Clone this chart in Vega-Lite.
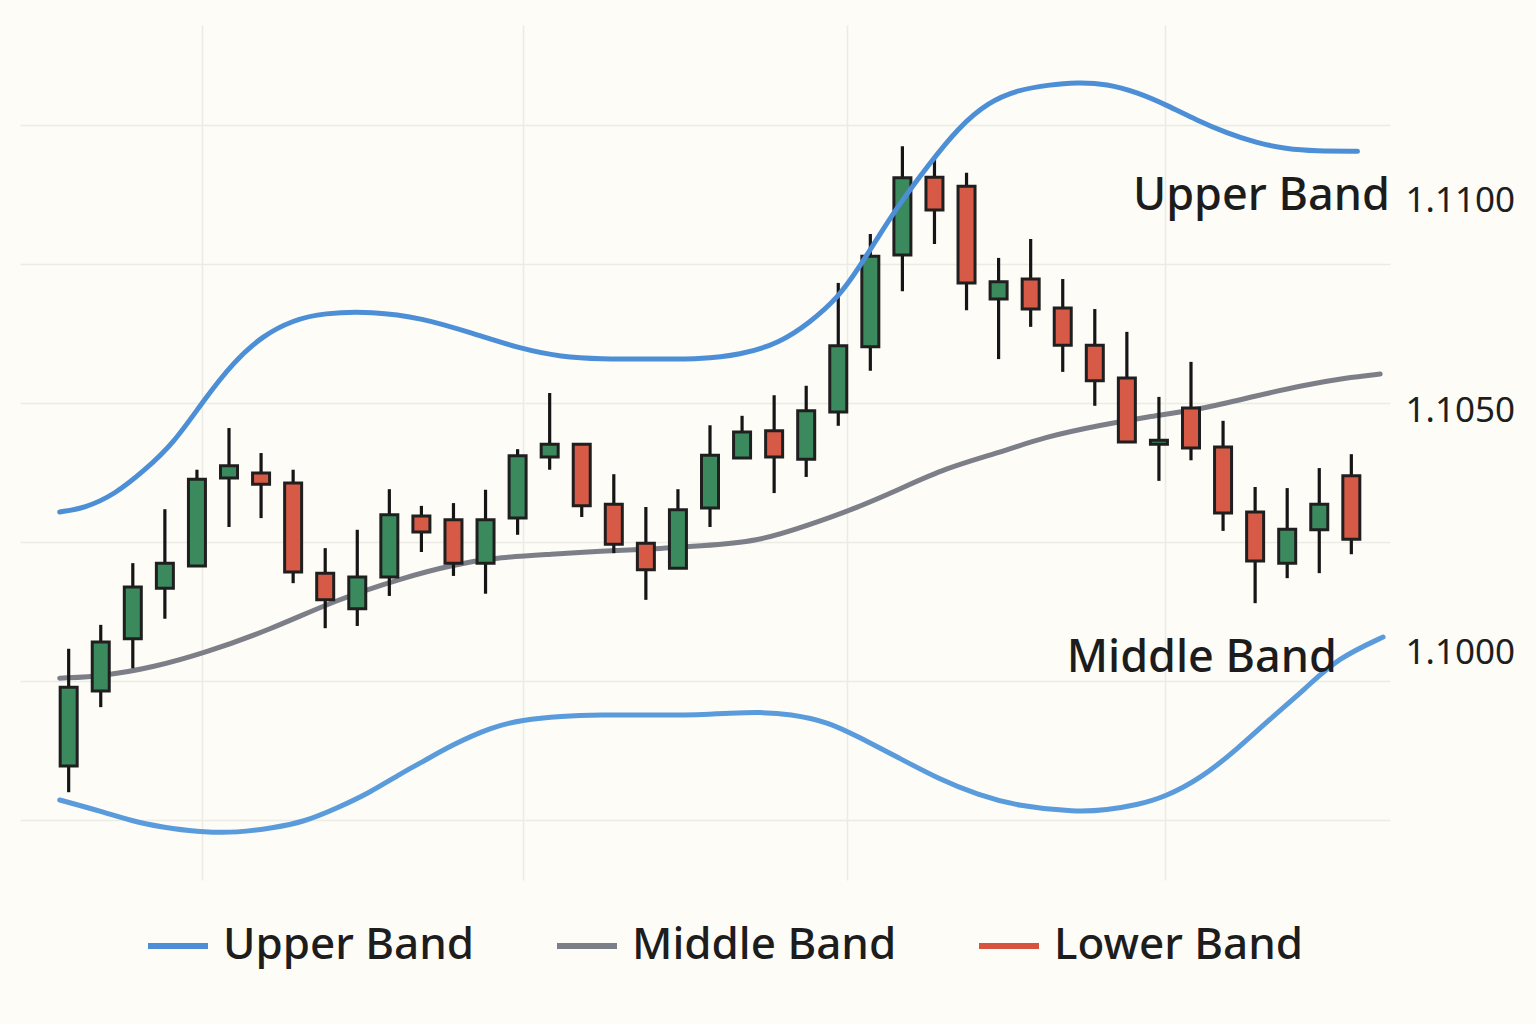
{
  "$schema": "https://vega.github.io/schema/vega-lite/v6.json",
  "width": 1370,
  "height": 855,
  "autosize": "none",
  "padding": {"left": 20, "top": 25, "right": 146, "bottom": 144},
  "background": "#fdfcf7",
  "config": {
    "view": {"stroke": null},
    "font": "Noto Sans",
    "axisY": {
      "grid": false,
      "ticks": false,
      "domain": false,
      "title": null,
      "labelFont": "Noto Sans",
      "labelFontSize": 35,
      "labelColor": "#1e1e1e",
      "labelPadding": 15,
      "labelOverlap": false,
      "labelBound": false,
      "labelFlush": false,
      "format": ".4f"
    }
  },
  "resolve": {"axis": {"y": "independent"}},
  "datasets": {
    "candles": [
      {"i": 0, "open": 1.09847, "high": 1.10058, "low": 1.09800, "close": 1.09989},
      {"i": 1, "open": 1.09982, "high": 1.10101, "low": 1.09953, "close": 1.10070},
      {"i": 2, "open": 1.10076, "high": 1.10212, "low": 1.10023, "close": 1.10169},
      {"i": 3, "open": 1.10167, "high": 1.10309, "low": 1.10112, "close": 1.10212},
      {"i": 4, "open": 1.10207, "high": 1.10380, "low": 1.10207, "close": 1.10363},
      {"i": 5, "open": 1.10365, "high": 1.10455, "low": 1.10277, "close": 1.10387},
      {"i": 6, "open": 1.10374, "high": 1.10410, "low": 1.10293, "close": 1.10354},
      {"i": 7, "open": 1.10356, "high": 1.10380, "low": 1.10176, "close": 1.10196},
      {"i": 8, "open": 1.10194, "high": 1.10239, "low": 1.10095, "close": 1.10146},
      {"i": 9, "open": 1.10130, "high": 1.10272, "low": 1.10099, "close": 1.10187},
      {"i": 10, "open": 1.10187, "high": 1.10345, "low": 1.10153, "close": 1.10299},
      {"i": 11, "open": 1.10297, "high": 1.10315, "low": 1.10232, "close": 1.10268},
      {"i": 12, "open": 1.10290, "high": 1.10320, "low": 1.10189, "close": 1.10212},
      {"i": 13, "open": 1.10212, "high": 1.10344, "low": 1.10157, "close": 1.10290},
      {"i": 14, "open": 1.10293, "high": 1.10417, "low": 1.10263, "close": 1.10405},
      {"i": 15, "open": 1.10403, "high": 1.10518, "low": 1.10380, "close": 1.10426},
      {"i": 16, "open": 1.10426, "high": 1.10426, "low": 1.10295, "close": 1.10315},
      {"i": 17, "open": 1.10318, "high": 1.10372, "low": 1.10230, "close": 1.10246},
      {"i": 18, "open": 1.10248, "high": 1.10313, "low": 1.10146, "close": 1.10200},
      {"i": 19, "open": 1.10203, "high": 1.10345, "low": 1.10203, "close": 1.10308},
      {"i": 20, "open": 1.10311, "high": 1.10460, "low": 1.10277, "close": 1.10406},
      {"i": 21, "open": 1.10401, "high": 1.10477, "low": 1.10401, "close": 1.10448},
      {"i": 22, "open": 1.10450, "high": 1.10514, "low": 1.10338, "close": 1.10403},
      {"i": 23, "open": 1.10399, "high": 1.10531, "low": 1.10367, "close": 1.10486},
      {"i": 24, "open": 1.10484, "high": 1.10716, "low": 1.10459, "close": 1.10603},
      {"i": 25, "open": 1.10601, "high": 1.10804, "low": 1.10558, "close": 1.10764},
      {"i": 26, "open": 1.10766, "high": 1.10962, "low": 1.10701, "close": 1.10905},
      {"i": 27, "open": 1.10906, "high": 1.10942, "low": 1.10786, "close": 1.10847},
      {"i": 28, "open": 1.10890, "high": 1.10914, "low": 1.10667, "close": 1.10716},
      {"i": 29, "open": 1.10687, "high": 1.10761, "low": 1.10579, "close": 1.10718},
      {"i": 30, "open": 1.10723, "high": 1.10795, "low": 1.10637, "close": 1.10669},
      {"i": 31, "open": 1.10671, "high": 1.10723, "low": 1.10556, "close": 1.10604},
      {"i": 32, "open": 1.10604, "high": 1.10669, "low": 1.10495, "close": 1.10540},
      {"i": 33, "open": 1.10545, "high": 1.10628, "low": 1.10430, "close": 1.10430},
      {"i": 34, "open": 1.10426, "high": 1.10511, "low": 1.10360, "close": 1.10433},
      {"i": 35, "open": 1.10491, "high": 1.10574, "low": 1.10397, "close": 1.10419},
      {"i": 36, "open": 1.10421, "high": 1.10468, "low": 1.10270, "close": 1.10302},
      {"i": 37, "open": 1.10304, "high": 1.10349, "low": 1.10140, "close": 1.10216},
      {"i": 38, "open": 1.10212, "high": 1.10347, "low": 1.10185, "close": 1.10273},
      {"i": 39, "open": 1.10272, "high": 1.10383, "low": 1.10194, "close": 1.10318},
      {"i": 40, "open": 1.10369, "high": 1.10408, "low": 1.10228, "close": 1.10255}
    ],
    "bands": [
      {"band": "Upper Band", "i": -0.28, "price": 1.10304},
      {"band": "Upper Band", "i": 0.50, "price": 1.10311},
      {"band": "Upper Band", "i": 1.42, "price": 1.10335},
      {"band": "Upper Band", "i": 2.35, "price": 1.10378},
      {"band": "Upper Band", "i": 3.28, "price": 1.10428},
      {"band": "Upper Band", "i": 4.21, "price": 1.10505},
      {"band": "Upper Band", "i": 5.14, "price": 1.10574},
      {"band": "Upper Band", "i": 6.07, "price": 1.10622},
      {"band": "Upper Band", "i": 7.00, "price": 1.10649},
      {"band": "Upper Band", "i": 7.93, "price": 1.10662},
      {"band": "Upper Band", "i": 9.47, "price": 1.10665},
      {"band": "Upper Band", "i": 11.02, "price": 1.10653},
      {"band": "Upper Band", "i": 12.57, "price": 1.10626},
      {"band": "Upper Band", "i": 14.12, "price": 1.10597},
      {"band": "Upper Band", "i": 15.36, "price": 1.10583},
      {"band": "Upper Band", "i": 16.59, "price": 1.10579},
      {"band": "Upper Band", "i": 18.14, "price": 1.10579},
      {"band": "Upper Band", "i": 19.69, "price": 1.10579},
      {"band": "Upper Band", "i": 20.93, "price": 1.10586},
      {"band": "Upper Band", "i": 22.17, "price": 1.10608},
      {"band": "Upper Band", "i": 23.10, "price": 1.10644},
      {"band": "Upper Band", "i": 24.02, "price": 1.10691},
      {"band": "Upper Band", "i": 24.64, "price": 1.10743},
      {"band": "Upper Band", "i": 25.26, "price": 1.10800},
      {"band": "Upper Band", "i": 25.88, "price": 1.10856},
      {"band": "Upper Band", "i": 26.81, "price": 1.10928},
      {"band": "Upper Band", "i": 27.74, "price": 1.10995},
      {"band": "Upper Band", "i": 28.67, "price": 1.11041},
      {"band": "Upper Band", "i": 29.60, "price": 1.11063},
      {"band": "Upper Band", "i": 30.53, "price": 1.11072},
      {"band": "Upper Band", "i": 31.46, "price": 1.11077},
      {"band": "Upper Band", "i": 32.38, "price": 1.11074},
      {"band": "Upper Band", "i": 33.31, "price": 1.11059},
      {"band": "Upper Band", "i": 34.24, "price": 1.11036},
      {"band": "Upper Band", "i": 35.17, "price": 1.11009},
      {"band": "Upper Band", "i": 36.10, "price": 1.10986},
      {"band": "Upper Band", "i": 37.03, "price": 1.10968},
      {"band": "Upper Band", "i": 37.96, "price": 1.10957},
      {"band": "Upper Band", "i": 38.89, "price": 1.10953},
      {"band": "Upper Band", "i": 40.19, "price": 1.10953},
      {"band": "Middle Band", "i": -0.28, "price": 1.10005},
      {"band": "Middle Band", "i": 1.11, "price": 1.10009},
      {"band": "Middle Band", "i": 2.66, "price": 1.10025},
      {"band": "Middle Band", "i": 4.21, "price": 1.10050},
      {"band": "Middle Band", "i": 6.28, "price": 1.10092},
      {"band": "Middle Band", "i": 8.33, "price": 1.10146},
      {"band": "Middle Band", "i": 10.40, "price": 1.10185},
      {"band": "Middle Band", "i": 11.95, "price": 1.10209},
      {"band": "Middle Band", "i": 13.50, "price": 1.10223},
      {"band": "Middle Band", "i": 15.05, "price": 1.10228},
      {"band": "Middle Band", "i": 16.59, "price": 1.10234},
      {"band": "Middle Band", "i": 18.14, "price": 1.10237},
      {"band": "Middle Band", "i": 19.69, "price": 1.10243},
      {"band": "Middle Band", "i": 21.46, "price": 1.10250},
      {"band": "Middle Band", "i": 23.10, "price": 1.10281},
      {"band": "Middle Band", "i": 24.43, "price": 1.10308},
      {"band": "Middle Band", "i": 25.88, "price": 1.10344},
      {"band": "Middle Band", "i": 27.34, "price": 1.10383},
      {"band": "Middle Band", "i": 28.98, "price": 1.10410},
      {"band": "Middle Band", "i": 30.43, "price": 1.10439},
      {"band": "Middle Band", "i": 32.17, "price": 1.10460},
      {"band": "Middle Band", "i": 33.62, "price": 1.10475},
      {"band": "Middle Band", "i": 35.33, "price": 1.10489},
      {"band": "Middle Band", "i": 37.03, "price": 1.10513},
      {"band": "Middle Band", "i": 38.51, "price": 1.10532},
      {"band": "Middle Band", "i": 39.81, "price": 1.10545},
      {"band": "Middle Band", "i": 40.90, "price": 1.10552},
      {"band": "Lower Band", "i": -0.28, "price": 1.09786},
      {"band": "Lower Band", "i": 1.11, "price": 1.09764},
      {"band": "Lower Band", "i": 2.14, "price": 1.09745},
      {"band": "Lower Band", "i": 3.28, "price": 1.09734},
      {"band": "Lower Band", "i": 4.21, "price": 1.09728},
      {"band": "Lower Band", "i": 5.23, "price": 1.09727},
      {"band": "Lower Band", "i": 6.38, "price": 1.09736},
      {"band": "Lower Band", "i": 7.31, "price": 1.09746},
      {"band": "Lower Band", "i": 8.39, "price": 1.09772},
      {"band": "Lower Band", "i": 9.38, "price": 1.09799},
      {"band": "Lower Band", "i": 10.40, "price": 1.09835},
      {"band": "Lower Band", "i": 11.02, "price": 1.09854},
      {"band": "Lower Band", "i": 11.95, "price": 1.09885},
      {"band": "Lower Band", "i": 13.19, "price": 1.09917},
      {"band": "Lower Band", "i": 14.12, "price": 1.09930},
      {"band": "Lower Band", "i": 15.36, "price": 1.09937},
      {"band": "Lower Band", "i": 16.59, "price": 1.09939},
      {"band": "Lower Band", "i": 18.14, "price": 1.09939},
      {"band": "Lower Band", "i": 19.69, "price": 1.09939},
      {"band": "Lower Band", "i": 20.62, "price": 1.09942},
      {"band": "Lower Band", "i": 21.55, "price": 1.09944},
      {"band": "Lower Band", "i": 22.48, "price": 1.09941},
      {"band": "Lower Band", "i": 23.72, "price": 1.09926},
      {"band": "Lower Band", "i": 24.64, "price": 1.09899},
      {"band": "Lower Band", "i": 25.88, "price": 1.09862},
      {"band": "Lower Band", "i": 27.12, "price": 1.09824},
      {"band": "Lower Band", "i": 28.36, "price": 1.09795},
      {"band": "Lower Band", "i": 29.60, "price": 1.09775},
      {"band": "Lower Band", "i": 31.42, "price": 1.09764},
      {"band": "Lower Band", "i": 32.38, "price": 1.09768},
      {"band": "Lower Band", "i": 33.31, "price": 1.09777},
      {"band": "Lower Band", "i": 34.18, "price": 1.09791},
      {"band": "Lower Band", "i": 35.33, "price": 1.09826},
      {"band": "Lower Band", "i": 36.41, "price": 1.09876},
      {"band": "Lower Band", "i": 37.43, "price": 1.09930},
      {"band": "Lower Band", "i": 38.58, "price": 1.09987},
      {"band": "Lower Band", "i": 39.57, "price": 1.10041},
      {"band": "Lower Band", "i": 40.99, "price": 1.10079}
    ],
    "notes": [
      {"text": "Upper Band", "i": 41.2, "price": 1.10847},
      {"text": "Middle Band", "i": 39.55, "price": 1.10016}
    ]
  },
  "encoding": {
    "x": {
      "field": "i",
      "type": "quantitative",
      "scale": {"domain": [-1.362, 41.05], "nice": false, "zero": false},
      "axis": {
        "values": [4.15, 14.18, 24.27, 34.18],
        "grid": true,
        "gridColor": "#ecebe6",
        "gridWidth": 1.5,
        "labels": false,
        "ticks": false,
        "domain": false,
        "title": null
      }
    }
  },
  "layer": [
    {
      "data": {"name": "bands"},
      "transform": [{"filter": "datum.band == 'Middle Band'"}],
      "mark": {"type": "line", "strokeWidth": 5, "strokeCap": "round", "interpolate": "basis"},
      "encoding": {
        "y": {
          "field": "price",
          "type": "quantitative",
          "scale": {"domain": [1.096421, 1.111799], "nice": false, "zero": false},
          "axis": {
            "orient": "right",
            "values": [1.0975, 1.1, 1.1025, 1.105, 1.1075, 1.11],
            "grid": true,
            "gridColor": "#ecebe6",
            "gridWidth": 1.5,
            "labels": false
          }
        },
        "color": {
          "field": "band",
          "type": "nominal",
          "scale": {
            "domain": ["Upper Band", "Middle Band", "Lower Band"],
            "range": ["#4d8fd6", "#7c7f87", "#d6533f"]
          },
          "legend": {
            "orient": "none",
            "legendX": 125,
            "legendY": 888,
            "direction": "horizontal",
            "title": null,
            "symbolType": "stroke",
            "symbolSize": 3600,
            "symbolStrokeWidth": 6,
            "labelFont": "Noto Sans",
            "labelFontSize": 44,
            "labelFontWeight": 500,
            "labelColor": "#1d1d1d",
            "labelOffset": 12,
            "columnPadding": 70,
            "padding": 0,
            "labelLimit": 400
          }
        }
      }
    },
    {
      "data": {"name": "bands"},
      "transform": [{"filter": "datum.band == 'Lower Band'"}],
      "mark": {"type": "line", "strokeWidth": 5, "strokeCap": "round", "interpolate": "basis", "color": "#5a9bdc"},
      "encoding": {
        "y": {
          "field": "price",
          "type": "quantitative",
          "scale": {"domain": [1.096421, 1.111799], "nice": false, "zero": false},
          "axis": {"orient": "right", "values": [1.1], "labelOffset": -29}
        }
      }
    },
    {
      "data": {"name": "candles"},
      "mark": {"type": "rule", "strokeWidth": 3.2, "color": "#151515"},
      "encoding": {
        "y": {
          "field": "low",
          "type": "quantitative",
          "scale": {"domain": [1.096421, 1.111799], "nice": false, "zero": false},
          "axis": {"orient": "right", "values": [1.105], "labelOffset": 7}
        },
        "y2": {"field": "high"}
      }
    },
    {
      "data": {"name": "candles"},
      "mark": {"type": "bar", "size": 17, "stroke": "#1f1f1f", "strokeWidth": 3},
      "encoding": {
        "y": {
          "field": "open",
          "type": "quantitative",
          "scale": {"domain": [1.096421, 1.111799], "nice": false, "zero": false},
          "axis": {"orient": "right", "values": [1.11], "labelOffset": 75}
        },
        "y2": {"field": "close"},
        "fill": {
          "condition": {"test": "datum.close >= datum.open", "value": "#3b8a5e"},
          "value": "#d65a46"
        }
      }
    },
    {
      "data": {"name": "bands"},
      "transform": [{"filter": "datum.band == 'Upper Band'"}],
      "mark": {"type": "line", "strokeWidth": 5, "strokeCap": "round", "interpolate": "basis"},
      "encoding": {
        "y": {"field": "price", "type": "quantitative", "scale": {"domain": [1.096421, 1.111799], "nice": false, "zero": false}, "axis": null},
        "color": {"field": "band", "type": "nominal"}
      }
    },
    {
      "data": {"name": "notes"},
      "mark": {"type": "text", "align": "right", "baseline": "alphabetic", "font": "Noto Sans", "fontSize": 45, "fontWeight": 500, "color": "#1c1c1c"},
      "encoding": {
        "y": {"field": "price", "type": "quantitative", "scale": {"domain": [1.096421, 1.111799], "nice": false, "zero": false}, "axis": null},
        "text": {"field": "text"}
      }
    }
  ]
}
